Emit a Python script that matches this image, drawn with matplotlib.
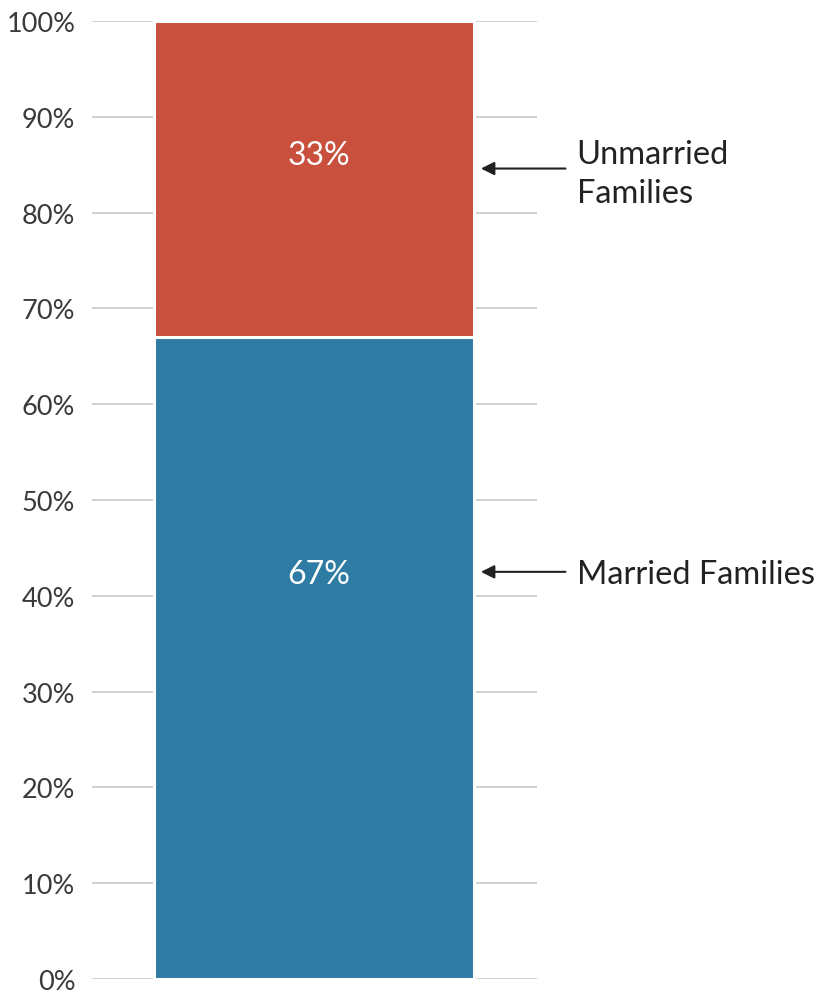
import numpy as np
from matplotlib import pyplot as plt

categories = ['Married Families', 'Unmarried Families']
shares = [67, 33]
seg_labels = ['67%', '33%']
colors = ['#2E7CA3', '#C8503C']
ticks = list(range(0, 101, 10))
tick_labels = ['%d%%' % t for t in ticks]
# height (percent) of each segment label and callout arrow
label_y = [42.3, 86.0]
callout = ['Married Families', 'Unmarried\nFamilies']

plt.rcParams['font.family'] = ['Lato', 'DejaVu Sans']

fig = plt.figure(figsize=(8.19, 9.95), dpi=100)
ax = fig.add_axes([92 / 819, 1 - 980 / 995, (537 - 92) / 819, 958 / 995])

bottom = 0
for val, col, lab, ly in zip(shares, colors, seg_labels, label_y):
    ax.bar(0, val, bottom=bottom, width=0.718, color=col,
           edgecolor='white', linewidth=2.2, zorder=2)
    ax.text(0.01, ly, lab, ha='center', va='center', color='white',
            fontsize=23, zorder=3)
    bottom += val

ax.set_xlim(-0.499, 0.501)
ax.set_ylim(0, 100)
ax.set_yticks(ticks)
ax.set_yticklabels(tick_labels, fontsize=19.5, color='#3a3a3a')
ax.set_xticks([])
ax.yaxis.grid(True, color='#c8c8c8', linewidth=1.2, zorder=0)
ax.set_axisbelow(True)
ax.tick_params(axis='y', length=0, pad=12)
for s in ax.spines.values():
    s.set_visible(False)

arrow_y = [42.5, 84.6]
text_dy = [-0.2, -0.5]
for y, dy, txt in zip(arrow_y, text_dy, callout):
    ax.annotate('', xy=(0.375, y), xytext=(0.565, y),
                arrowprops=dict(arrowstyle='-|>', color='#222222', lw=1.5,
                                mutation_scale=20, shrinkA=0, shrinkB=0),
                annotation_clip=False)
    ax.text(0.59, y + dy, txt, ha='left', va='center', fontsize=23.5,
            color='#222222', linespacing=1.4, clip_on=False)

fig.savefig('out.png', dpi=100)
plt.close(fig)
